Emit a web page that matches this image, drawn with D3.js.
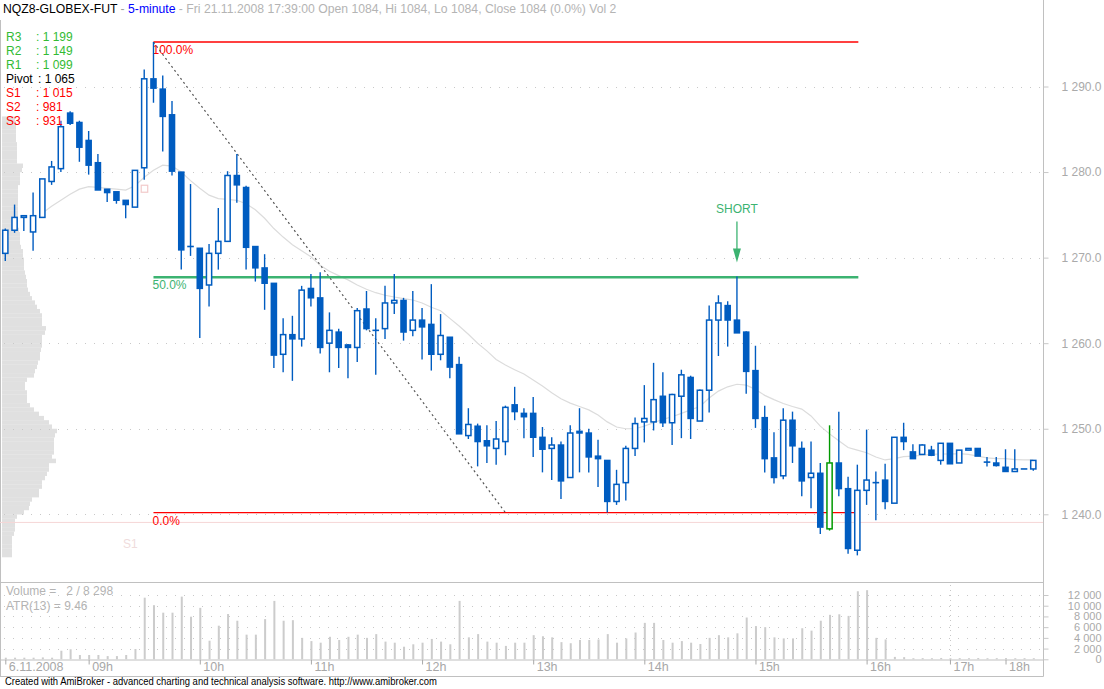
<!DOCTYPE html>
<html><head><meta charset="utf-8">
<script src="https://cdn.jsdelivr.net/npm/d3@7"></script>
<style>
html,body{margin:0;padding:0;background:#fff;}
svg{display:block;font-family:"Liberation Sans",Arial,sans-serif;}
text{white-space:pre;}
</style></head>
<body><svg id="c" width="1104" height="689"></svg>
<script>
// ---------------- DATA ----------------
const opens = [1270.5,1273.2,1274.7,1273.0,1274.7,1278.9,1280.4,1286.9,1285.8,1283.7,1281.1,1278.0,1277.7,1276.7,1275.9,1280.5,1290.9,1289.7,1286.7,1280.0,
1271.3,1271.1,1266.8,1270.5,1271.9,1279.6,1278.2,1271.3,1268.8,1267.0,1258.7,1261.0,1260.5,1266.4,1265.3,1260.0,1261.3,1259.8,1259.5,1264.0,
1261.5,1261.7,1264.7,1265.0,1261.5,1262.7,1262.2,1258.7,1260.7,1257.5,1249.2,1250.3,1248.6,1247.7,1248.5,1252.8,1251.8,1251.8,1249.0,1247.7,
1248.1,1244.3,1249.7,1249.5,1246.8,1246.3,1241.5,1243.7,1247.7,1250.8,1250.8,1253.8,1250.7,1253.8,1256.0,1250.9,1254.5,1262.7,1264.4,1262.7,
1261.3,1256.8,1251.3,1246.6,1244.5,1251.0,1247.7,1244.3,1244.8,1238.3,1246.0,1243.0,1235.8,1242.8,1243.7,1244.0,1241.3,1249.0,1247.3,1247.0,
1247.5,1246.3,1248.3,1246.0,1247.5,1247.7,1246.1,1246.0,1245.5,1245.0,1245.3,1245.3];
const highs = [1273.4,1276.2,1274.9,1277.6,1279.2,1281.3,1286.0,1287.1,1286.0,1284.8,1282.1,1278.0,1277.7,1276.7,1280.2,1292.0,1295.2,1291.3,1288.3,1280.0,
1278.6,1271.1,1271.6,1275.8,1280.1,1282.1,1278.4,1271.3,1270.4,1267.0,1262.9,1263.2,1266.7,1268.1,1268.3,1263.6,1261.7,1259.9,1264.1,1266.1,
1262.9,1266.7,1268.1,1265.3,1266.1,1264.1,1266.9,1263.4,1260.7,1258.4,1252.4,1250.6,1250.4,1250.9,1252.7,1254.9,1252.4,1253.7,1250.2,1249.0,
1248.5,1250.4,1252.4,1250.0,1248.7,1246.3,1245.2,1248.0,1251.3,1255.1,1257.7,1256.6,1254.1,1256.9,1256.2,1254.6,1264.4,1265.6,1264.9,1267.8,
1261.4,1259.7,1252.7,1249.6,1252.4,1252.0,1248.5,1248.5,1246.0,1250.4,1252.0,1244.4,1245.8,1249.9,1245.0,1245.9,1249.0,1250.7,1248.2,1248.2,
1248.0,1248.3,1248.3,1247.5,1247.7,1247.7,1246.7,1246.7,1247.6,1247.6,1245.3,1246.3];
const lows = [1269.6,1272.9,1273.1,1270.8,1274.7,1278.5,1280.0,1285.5,1281.2,1279.7,1277.9,1276.5,1276.3,1274.6,1275.9,1279.1,1288.1,1282.4,1279.6,1268.6,
1270.2,1260.6,1264.3,1268.6,1271.9,1276.4,1268.6,1267.2,1263.9,1257.1,1256.6,1255.6,1259.6,1264.3,1258.8,1256.6,1257.1,1255.9,1257.8,1261.5,
1256.3,1260.5,1263.4,1260.3,1260.8,1258.1,1256.8,1258.0,1255.9,1249.4,1248.8,1245.6,1246.0,1245.8,1246.9,1251.0,1248.9,1246.7,1244.9,1244.0,
1241.8,1244.3,1244.9,1244.9,1243.2,1240.2,1241.1,1241.6,1246.8,1248.4,1249.8,1250.2,1248.1,1248.9,1248.8,1250.9,1251.9,1258.5,1259.6,1261.2,
1254.1,1250.1,1244.9,1243.6,1244.1,1246.0,1242.1,1240.7,1237.7,1238.1,1242.1,1235.4,1235.2,1241.1,1239.3,1240.6,1241.3,1247.5,1246.5,1247.0,
1246.8,1245.8,1245.9,1246.0,1247.5,1246.8,1245.6,1245.6,1245.0,1245.0,1245.3,1245.1];
const closes = [1273.2,1274.7,1274.9,1274.9,1279.2,1280.6,1285.3,1285.7,1282.9,1280.8,1277.9,1277.6,1276.7,1276.2,1280.2,1290.9,1289.8,1286.5,1280.1,1270.9,
1271.2,1266.4,1270.5,1271.9,1279.6,1278.5,1271.2,1268.8,1267.0,1258.6,1261.0,1260.5,1266.2,1265.3,1259.5,1261.5,1259.5,1259.5,1263.8,1261.7,
1261.5,1264.7,1265.0,1261.3,1262.7,1261.9,1258.7,1260.9,1257.2,1249.4,1250.5,1248.5,1248.0,1248.8,1252.5,1252.0,1251.4,1249.0,1247.6,1248.1,
1243.9,1249.5,1249.5,1246.7,1246.5,1241.5,1243.5,1247.7,1250.6,1251.2,1253.4,1250.7,1254.0,1256.3,1251.2,1254.5,1262.7,1264.7,1262.7,1261.2,
1256.7,1251.2,1246.5,1244.3,1251.0,1248.0,1243.9,1244.8,1238.5,1246.0,1243.0,1236.0,1242.8,1244.0,1243.7,1241.5,1249.0,1248.5,1246.5,1248.1,
1246.9,1248.3,1245.9,1247.5,1247.7,1246.8,1246.1,1245.7,1245.0,1245.3,1245.3,1246.3];
const volumes = [300,300,300,300,350,300,1600,1870,800,800,800,600,600,800,1920,11500,10100,8700,8700,11700,
7950,9600,3470,6270,8450,7200,4600,4600,7500,10900,7200,7300,4000,3400,3100,4200,3600,4200,4600,4000,
4700,3300,3100,2350,2800,3100,3800,3300,2800,10900,4100,4700,3300,3100,2500,3100,3100,4500,4300,4100,
3200,3000,3600,3600,3700,4700,3100,3900,5000,6800,6800,3600,3100,3400,3100,2850,4000,4500,4100,4850,
7800,6200,6000,4100,3900,3900,5800,5350,7200,8300,8400,8100,12700,12900,4000,3700,450,400,200,220,
200,250,200,220,200,230,200,210,220,200,210,200];
const highlightBar = 89;   // green outlined candle
const maValues = [null,null,null,null,1275.2,1276.0,1276.7,1277.4,1278.0,1278.3,1278.2,1278.1,1278.0,1277.9,1278.4,1279.4,1280.2,1280.8,1280.7,1280.0,
1279.0,1278.1,1277.3,1276.9,1276.8,1276.7,1276.3,1275.6,1274.6,1273.4,1272.4,1271.5,1270.8,1270.1,1269.1,1268.4,1267.9,1267.4,1266.8,1266.3,
1265.9,1265.6,1265.4,1265.2,1265.05,1264.7,1264.2,1263.8,1262.9,1262.0,1261.05,1260.0,1259.1,1258.1,1257.45,1256.9,1256.4,1255.7,1255.0,1254.2,
1253.5,1253.0,1252.6,1252.2,1251.6,1250.8,1250.2,1250.0,1250.0,1250.3,1250.7,1251.1,1251.4,1251.8,1252.2,1252.6,1253.6,1254.4,1254.9,1255.2,
1255.1,1254.6,1253.9,1253.4,1252.95,1252.6,1252.3,1251.5,1250.3,1249.4,1248.6,1247.8,1247.5,1247.2,1246.7,1246.35,1246.5,1246.75,1246.8,1246.9,
1247.0,1247.05,1247.05,1247.1,1247.0,1246.8,1246.6,1246.5,1246.5,1246.4,1246.35,1246.35];
const profileLevels = [1235.0,1235.5,1236.0,1236.5,1237.0,1237.5,1238.0,1238.5,1239.0,1239.5,1240.0,1240.5,1241.0,1241.5,1242.0,1242.5,1243.0,1243.5,1244.0,1244.5,
1245.0,1245.5,1246.0,1246.5,1247.0,1247.5,1248.0,1248.5,1249.0,1249.5,1250.0,1250.5,1251.0,1251.5,1252.0,1252.5,1253.0,1253.5,1254.0,1254.5,
1255.0,1255.5,1256.0,1256.5,1257.0,1257.5,1258.0,1258.5,1259.0,1259.5,1260.0,1260.5,1261.0,1261.5,1262.0,1262.5,1263.0,1263.5,1264.0,1264.5,
1265.0,1265.5,1266.0,1266.5,1267.0,1267.5,1268.0,1268.5,1269.0,1269.5,1270.0,1270.5,1271.0,1271.5,1272.0,1272.5,1273.0,1273.5,1274.0,1274.5,
1275.0,1275.5,1276.0,1276.5,1277.0,1277.5,1278.0,1278.5,1279.0,1279.5,1280.0,1280.5,1281.0,1281.5,1282.0,1282.5,1283.0,1283.5,1284.0,1284.5,
1285.0,1285.5,1286.0];
const profileVolumes = [10,10,10,10,10,12,13,13,13,15,22,27,28,30,37,37,40,40,43,45,
47,47,54,50,52,52,52,52,53,55,50,47,42,37,32,28,25,25,25,23,
23,25,32,33,35,36,38,38,39,40,40,40,43,44,40,40,40,38,35,33,
30,28,26,25,25,24,23,22,22,22,21,21,19,18,18,18,17,16,16,16,
16,16,16,16,16,16,16,18,18,18,20,21,15,15,15,15,15,14,14,14,
14,14,13];
const priceTicks = [1240,1250,1260,1270,1280,1290];
const volumeTicks = [0,2000,4000,6000,8000,10000,12000];
const timeTickIndex = [0,9,21,33,45,57,69,81,93,102,108];
const timeTickLabels = ["6.11.2008","09h","10h","11h","12h","13h","14h","15h","16h","17h","18h"];
const fibLevels = [1295.2,1267.7,1240.2];
const fibLabels = ["100.0%","50.0%","0.0%"];
const fibStartBar = 16, fibEndBar = 92;
const trendFrom = [16,1295.2], trendTo = [54,1240.2];
const s1Level = 1239.05;
const shortBar = 79;
const markerBar = 15, markerPrice = 1278.05;
const pivotNames = ["R3","R2","R1","Pivot","S1","S2","S3"];
const pivotValues = ["1 199","1 149","1 099","1 065","1 015","981","931"];
const headerParts = ["NQZ8-GLOBEX-FUT"," - ","5-minute"," - Fri 21.11.2008 17:39:00 Open 1084, Hi 1084, Lo 1084, Close 1084 (0.0%) Vol 2"];
const volumeLabel = "Volume =   2 / 8 298";
const atrLabel = "ATR(13) = 9.46";

// ---------------- DRAW ----------------
const svg = d3.select("#c");
const BLUE = "#005cc0", GREEN = "#3cb371", RED = "#ff0000";
const x = d3.scaleLinear().domain([0,111]).range([5.3,1033.3]);
const y = d3.scaleLinear().domain([1240,1290]).range([514.3,86.5]);
const yv = d3.scaleLinear().domain([0,12000]).range([659.3,595]);
const pw = d3.scaleLinear().domain([0,55]).range([0,55]);
const loc = d3.formatLocale({decimal:".",thousands:" ",grouping:[3],currency:["",""]});
const fPrice = loc.format(",.1f"), fVol = loc.format(",.0f");
const AXR = 1043.5;

// volume profile
svg.append("g").selectAll("rect").data(profileLevels).join("rect")
  .attr("x",2).attr("y",(d)=>y(d+0.5)).attr("height",(d)=>y(d)-y(d+0.5)+0.2)
  .attr("width",(d,i)=>pw(profileVolumes[i])).attr("fill","#e0e0e0");

// frames
const fr = svg.append("g").attr("stroke","#c0c0c0").attr("stroke-width",1).attr("fill","none");
fr.append("line").attr("x1",0.5).attr("x2",0.5).attr("y1",20).attr("y2",676.5);
fr.append("line").attr("x1",AXR).attr("x2",AXR).attr("y1",0).attr("y2",676.5);
fr.append("line").attr("x1",0).attr("x2",AXR).attr("y1",582.5).attr("y2",582.5);
fr.append("line").attr("x1",0).attr("x2",AXR).attr("y1",676.5).attr("y2",676.5);

// price grid
svg.append("g").selectAll("line").data(priceTicks).join("line")
  .attr("x1",4).attr("x2",1040).attr("y1",d=>Math.round(y(d))+0.5).attr("y2",d=>Math.round(y(d))+0.5)
  .attr("stroke","#c8c8c8").attr("stroke-dasharray","1 8");
// volume grid
svg.append("g").selectAll("line").data(volumeTicks.filter(d=>d>0)).join("line")
  .attr("x1",4).attr("x2",1040).attr("y1",d=>Math.round(yv(d))+0.5).attr("y2",d=>Math.round(yv(d))+0.5)
  .attr("stroke","#c8c8c8").attr("stroke-dasharray","1 8");
svg.append("line").attr("x1",Math.round(x(timeTickIndex[9]))+0.5).attr("x2",Math.round(x(timeTickIndex[9]))+0.5)
  .attr("y1",585).attr("y2",659).attr("stroke","#c8c8c8").attr("stroke-dasharray","1 4");

// S1 pivot line
svg.append("line").attr("x1",0).attr("x2",1043).attr("y1",y(s1Level)).attr("y2",y(s1Level))
  .attr("stroke","#f6d6d6").attr("stroke-width",1);
svg.append("text").attr("x",123).attr("y",548).attr("font-size",12).attr("fill","#efdcdc").text("S1");

// moving average
svg.append("path").datum(maValues).attr("fill","none").attr("stroke","#dcdcdc").attr("stroke-width",1.2)
  .attr("d",d3.line().defined(d=>d!==null).x((d,i)=>x(i)).y(d=>y(d)));

// right price axis
const ax = svg.append("g").attr("transform",`translate(${AXR},0)`)
  .call(d3.axisRight(y).tickValues(priceTicks).tickSize(5).tickFormat(fPrice));
ax.select(".domain").remove();
ax.selectAll(".tick line").attr("stroke","#c8c8c8");
ax.selectAll(".tick text").attr("x",58).attr("text-anchor","end").attr("fill","#aaaaaa")
  .attr("font-size",12).attr("font-family","Liberation Sans, Arial, sans-serif");
// right volume axis
const av = svg.append("g").attr("transform",`translate(${AXR},0)`)
  .call(d3.axisRight(yv).tickValues(volumeTicks).tickSize(5).tickFormat(fVol));
av.select(".domain").remove();
av.selectAll(".tick line").attr("stroke","#c8c8c8");
av.selectAll(".tick text").attr("x",58).attr("text-anchor","end").attr("fill","#aaaaaa")
  .attr("font-size",11).attr("font-family","Liberation Sans, Arial, sans-serif");

// bottom time axis
const ab = svg.append("g").attr("transform","translate(0,659.5)")
  .call(d3.axisBottom(x).tickValues(timeTickIndex).tickSize(5).tickFormat((d,i)=>timeTickLabels[i]));
ab.select(".domain").attr("stroke","#c0c0c0").attr("d","M0,0.5H1043.5");
ab.selectAll(".tick line").attr("stroke","#a8a8a8");
ab.selectAll(".tick text").attr("text-anchor","start").attr("x",3).attr("y",3).attr("fill","#a8a8a8")
  .attr("font-size",12.5).attr("font-family","Liberation Sans, Arial, sans-serif");

// volume bars
svg.append("g").selectAll("rect").data(volumes).join("rect")
  .attr("x",(d,i)=>x(i)-0.5).attr("width",2)
  .attr("y",d=>yv(d)).attr("height",d=>Math.max(1,yv(0)-yv(d)))
  .attr("fill","#cccccc");

// fib lines
const fibColors = [RED,GREEN,RED];
svg.append("g").selectAll("line").data(fibLevels).join("line")
  .attr("x1",x(fibStartBar)).attr("x2",x(fibEndBar)+1)
  .attr("y1",d=>y(d)).attr("y2",d=>y(d))
  .attr("stroke",(d,i)=>fibColors[i]).attr("stroke-width",(d,i)=>i===1?2.4:1.3);
svg.append("g").selectAll("text").data(fibLevels).join("text")
  .attr("x",x(fibStartBar)-1).attr("y",d=>y(d)+12).attr("font-size",12)
  .attr("fill",(d,i)=>fibColors[i]).text((d,i)=>fibLabels[i]);

// trend line
svg.append("line").attr("x1",x(trendFrom[0])).attr("y1",y(trendFrom[1]))
  .attr("x2",x(trendTo[0])).attr("y2",y(trendTo[1]))
  .attr("stroke","#555").attr("stroke-width",1.2).attr("stroke-dasharray","2 3");

// marker
svg.append("rect").attr("x",x(markerBar)-3).attr("y",y(markerPrice)-3.5).attr("width",6.5).attr("height",7)
  .attr("fill","none").attr("stroke","#f2caca").attr("stroke-width",1.2);

// candles
const cg = svg.append("g");
const bw = 6.6;
opens.forEach((o,i)=>{
  const c = closes[i], h = highs[i], l = lows[i];
  const cx = x(i);
  const col = i===highlightBar ? "#009900" : BLUE;
  const top = Math.max(o,c), bot = Math.min(o,c);
  const yt = y(top), yb = y(bot);
  const up = c > o;
  if (yb - yt < 1.2) {
    cg.append("line").attr("x1",cx).attr("x2",cx).attr("y1",y(h)).attr("y2",y(l)).attr("stroke",col).attr("stroke-width",1.4);
    cg.append("line").attr("x1",cx-bw/2).attr("x2",cx+bw/2).attr("y1",yt).attr("y2",yt).attr("stroke",col).attr("stroke-width",1.6);
    return;
  }
  if (y(h) < yt) cg.append("line").attr("x1",cx).attr("x2",cx).attr("y1",y(h)).attr("y2",yt).attr("stroke",col).attr("stroke-width",1.4);
  if (y(l) > yb) cg.append("line").attr("x1",cx).attr("x2",cx).attr("y1",yb).attr("y2",y(l)).attr("stroke",col).attr("stroke-width",1.4);
  if (up) {
    cg.append("rect").attr("x",cx-bw/2+0.7).attr("y",yt).attr("width",bw-1.4).attr("height",yb-yt)
      .attr("fill","#fff").attr("stroke",col).attr("stroke-width",1.5);
  } else {
    cg.append("rect").attr("x",cx-bw/2).attr("y",yt-0.7).attr("width",bw).attr("height",yb-yt+1.4)
      .attr("fill",col);
  }
});

// SHORT arrow
const sx = x(shortBar), tip = y(highs[shortBar]) - 14;
svg.append("line").attr("x1",sx).attr("x2",sx).attr("y1",tip-41).attr("y2",tip-12).attr("stroke",GREEN).attr("stroke-width",1.3);
svg.append("path").attr("d",`M${sx-4},${tip-14}L${sx+4},${tip-14}L${sx},${tip}Z`).attr("fill",GREEN);
svg.append("text").attr("x",sx).attr("y",tip-49).attr("text-anchor","middle").attr("font-size",12).attr("fill",GREEN).text("SHORT");

// header (single text element with coloured spans)
const hd = svg.append("text").attr("x",3).attr("y",13).attr("font-size",12.2);
const hcol = ["#000","#a0a0a0","#0000ff","#b4b4b4"];
headerParts.forEach((t,i)=>hd.append("tspan").attr("fill",hcol[i]).text(t));

// pivot legend
const pcol = ["#33bb33","#33bb33","#33bb33","#000000","#ff0000","#ff0000","#ff0000"];
const pg = svg.append("g").attr("font-size",12);
pivotNames.forEach((n,i)=>{
  const yy = 40.5 + i*14.1;
  pg.append("text").attr("x",6).attr("y",yy).attr("fill",pcol[i]).text(n);
  pg.append("text").attr("x",n==="Pivot"?38:36).attr("y",yy).attr("fill",pcol[i]).text(": "+pivotValues[i]);
});

// volume panel texts
svg.append("text").attr("x",6).attr("y",595).attr("font-size",12).attr("fill","#b4b4b4").text(volumeLabel);
svg.append("text").attr("x",6).attr("y",610).attr("font-size",12).attr("fill","#b4b4b4").text(atrLabel);

// footer
svg.append("text").attr("x",5).attr("y",685).attr("font-size",10.8).attr("fill","#000")
  .attr("textLength",432).attr("lengthAdjust","spacingAndGlyphs")
  .text("Created with AmiBroker - advanced charting and technical analysis software. http://www.amibroker.com");
</script></body></html>
